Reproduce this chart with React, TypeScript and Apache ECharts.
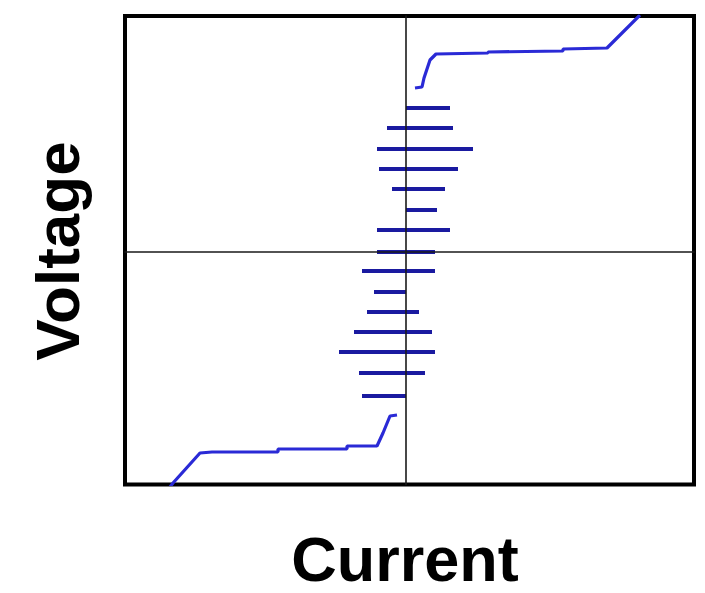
import React, { useEffect, useRef } from "react";
import * as echarts from "echarts";

// Horizontal bars: [voltage, currentStart, currentEnd] (arbitrary units)
const barLevels: number[] = [14.4, 12.4, 10.3, 8.3, 6.3, 4.2, 2.2, 0, -1.9, -4.0, -6.0, -8.0, -10.0, -12.1, -14.4];
const barStarts: number[] = [0, -1.9, -2.9, -2.7, -1.4, 0, -2.9, -2.9, -4.4, -3.2, -3.9, -5.2, -6.7, -4.7, -4.4];
const barEnds: number[] = [4.4, 4.7, 6.7, 5.2, 3.9, 3.1, 4.4, 2.9, 2.9, 0, 1.3, 2.6, 2.9, 1.9, 0];

// Lower branch curve [current, voltage]
const lowerCurve: number[][] = [
  [-0.9, -16.3], [-1.6, -16.4], [-2.3, -18.1], [-2.9, -19.4], [-5.9, -19.4], [-5.9, -19.7],
  [-12.8, -19.7], [-12.8, -20.0], [-19.4, -20.0], [-20.6, -20.1], [-23.3, -23.1], [-23.6, -23.5],
];
// Upper branch curve [current, voltage]
const upperCurve: number[][] = [
  [0.9, 16.4], [1.6, 16.5], [1.8, 17.4], [2.4, 19.2], [3.0, 19.8], [8.2, 19.9], [8.2, 20.0],
  [15.7, 20.1], [15.7, 20.3], [20.1, 20.4], [23.4, 23.7],
];

const xLabel = "Current";
const yLabel = "Voltage";

export default function App() {
  const ref = useRef<HTMLDivElement>(null);
  useEffect(() => {
    if (!ref.current) return;
    const chart = echarts.init(ref.current, null, { renderer: "svg" });
    const axisCommon = {
      type: "value" as const,
      axisLine: { show: true, onZero: true, lineStyle: { color: "#1a1a1a", width: 1.6 } },
      axisTick: { show: false },
      axisLabel: { show: false },
      splitLine: { show: false },
      z: 3,
    };
    chart.setOption({
      animation: false,
      backgroundColor: "#ffffff",
      grid: {
        left: 125,
        top: 16,
        width: 569,
        height: 468.5,
        show: true,
        borderColor: "#000",
        borderWidth: 4,
        backgroundColor: "transparent",
      },
      xAxis: { ...axisCommon, min: -28.1, max: 28.8 },
      yAxis: { ...axisCommon, min: -23.25, max: 23.6 },
      series: [
        {
          type: "lines",
          coordinateSystem: "cartesian2d",
          polyline: false,
          silent: true,
          lineStyle: { color: "#1a1aa0", width: 4, opacity: 1 },
          data: barLevels.map((v, i) => ({ coords: [[barStarts[i], v], [barEnds[i], v]] })),
          z: 2,
        },
        {
          type: "line",
          data: lowerCurve,
          showSymbol: false,
          lineStyle: { color: "#2a2ad6", width: 3.2 },
          silent: true,
        },
        {
          type: "line",
          data: upperCurve,
          showSymbol: false,
          lineStyle: { color: "#2a2ad6", width: 3.2 },
          silent: true,
        },
      ],
      graphic: [
        {
          type: "text",
          x: 405,
          y: 559,
          style: {
            text: xLabel,
            font: "bold 63px 'Liberation Sans', Arial, sans-serif",
            fill: "#000",
            textAlign: "center",
            textVerticalAlign: "middle",
          },
        },
        {
          type: "text",
          x: 57,
          y: 251,
          rotation: Math.PI / 2,
          style: {
            text: yLabel,
            font: "bold 62px 'Liberation Sans', Arial, sans-serif",
            fill: "#000",
            textAlign: "center",
            textVerticalAlign: "middle",
          },
        },
      ],
    });
    return () => chart.dispose();
  }, []);
  return (
    <div
      ref={ref}
      style={{ position: "fixed", left: 0, top: 0, width: 705, height: 593 }}
    />
  );
}
